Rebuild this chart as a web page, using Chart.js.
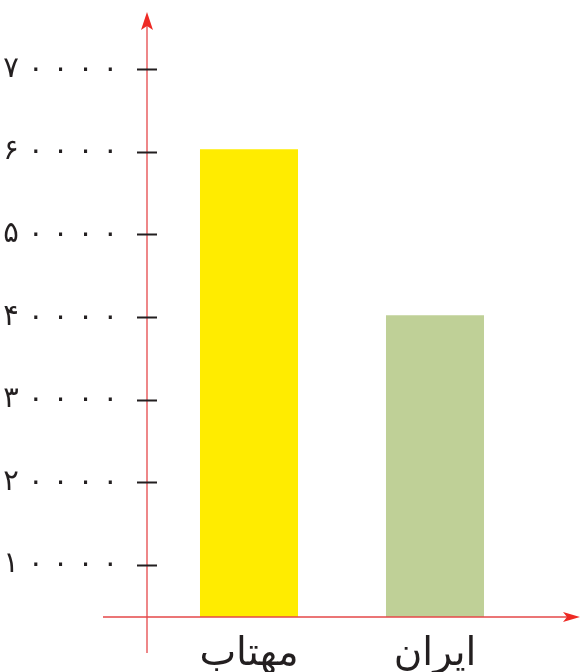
<!DOCTYPE html>
<html lang="fa">
<head>
<meta charset="UTF-8">
<title>نمودار ستونی</title>
<script src="https://cdn.jsdelivr.net/npm/chart.js"></script>
<style>
  body { margin: 0; background: #fff; }
  #wrap { width: 580px; height: 672px; position: relative; }
</style>
</head>
<body>
<div id="wrap"><canvas id="chart"></canvas></div>
<script>
const categories = ['مهتاب', 'ایران'];
const values = [60300, 40200];
const barColors = ['#FFEC00', '#BFD097'];
const tickValues = [10000, 20000, 30000, 40000, 50000, 60000, 70000];
const tickLabels = ['۱۰۰۰۰', '۲۰۰۰۰', '۳۰۰۰۰', '۴۰۰۰۰', '۵۰۰۰۰', '۶۰۰۰۰', '۷۰۰۰۰'];

// red arrow axes + black tick marks, drawn on top of the bars
const arrowAxes = {
    id: 'arrowAxes',
    afterDatasetsDraw(chart) {
        const ctx = chart.ctx;
        const area = chart.chartArea;
        const ys = chart.scales.y;
        const ax = area.left - 9;
        const ay = area.bottom;
        ctx.save();
        ctx.strokeStyle = '#E5484A';
        ctx.lineWidth = 1.3;
        ctx.beginPath();
        ctx.moveTo(ax, 653);
        ctx.lineTo(ax, area.top + 10);
        ctx.moveTo(103, ay);
        ctx.lineTo(570, ay);
        ctx.stroke();

        ctx.fillStyle = '#EE2A24';
        ctx.beginPath();
        ctx.moveTo(ax, area.top);
        ctx.lineTo(ax - 6, area.top + 18);
        ctx.lineTo(ax, area.top + 14);
        ctx.lineTo(ax + 6, area.top + 18);
        ctx.closePath();
        ctx.fill();
        ctx.beginPath();
        ctx.moveTo(580, ay);
        ctx.lineTo(563, ay - 5);
        ctx.lineTo(567, ay);
        ctx.lineTo(563, ay + 5);
        ctx.closePath();
        ctx.fill();

        ctx.strokeStyle = '#231F20';
        ctx.lineWidth = 2;
        ctx.beginPath();
        tickValues.forEach(v => {
            const py = Math.round(ys.getPixelForValue(v)) + 0.5;
            ctx.moveTo(ax - 10, py);
            ctx.lineTo(ax + 10, py);
        });
        ctx.stroke();
        ctx.restore();
    }
};

new Chart(document.getElementById('chart'), {
    type: 'bar',
    data: {
        labels: categories,
        datasets: [{
            data: values,
            backgroundColor: barColors,
            barPercentage: 1,
            categoryPercentage: 0.527
        }]
    },
    options: {
        responsive: true,
        maintainAspectRatio: false,
        animation: false,
        layout: { padding: { top: 12, right: 52, left: 0, bottom: 0 } },
        plugins: {
            legend: { display: false },
            tooltip: { enabled: false }
        },
        scales: {
            x: {
                offset: true,
                grid: { display: false, drawTicks: false },
                border: { display: false },
                ticks: {
                    color: '#231F20',
                    font: { family: 'DejaVu Sans', size: 39 },
                    padding: 14
                },
                afterFit: s => {
                    s.height = 55;
                    s.paddingLeft = 0;
                    s.paddingRight = 0;
                }
            },
            y: {
                min: 3700,
                max: 76900,
                grid: { display: false, drawTicks: false },
                border: { display: false },
                afterBuildTicks: s => { s.ticks = tickValues.map(v => ({ value: v })); },
                ticks: {
                    color: '#231F20',
                    font: { family: 'DejaVu Sans', size: 29 },
                    padding: 38,
                    // digits are printed spaced out, as in the source figure
                    callback: v => tickLabels[tickValues.indexOf(v)].split('').join(' ')
                },
                afterFit: s => {
                    s.width = 156;
                    s.paddingTop = 0;
                    s.paddingBottom = 0;
                }
            }
        }
    },
    plugins: [arrowAxes]
});
</script>
</body>
</html>
